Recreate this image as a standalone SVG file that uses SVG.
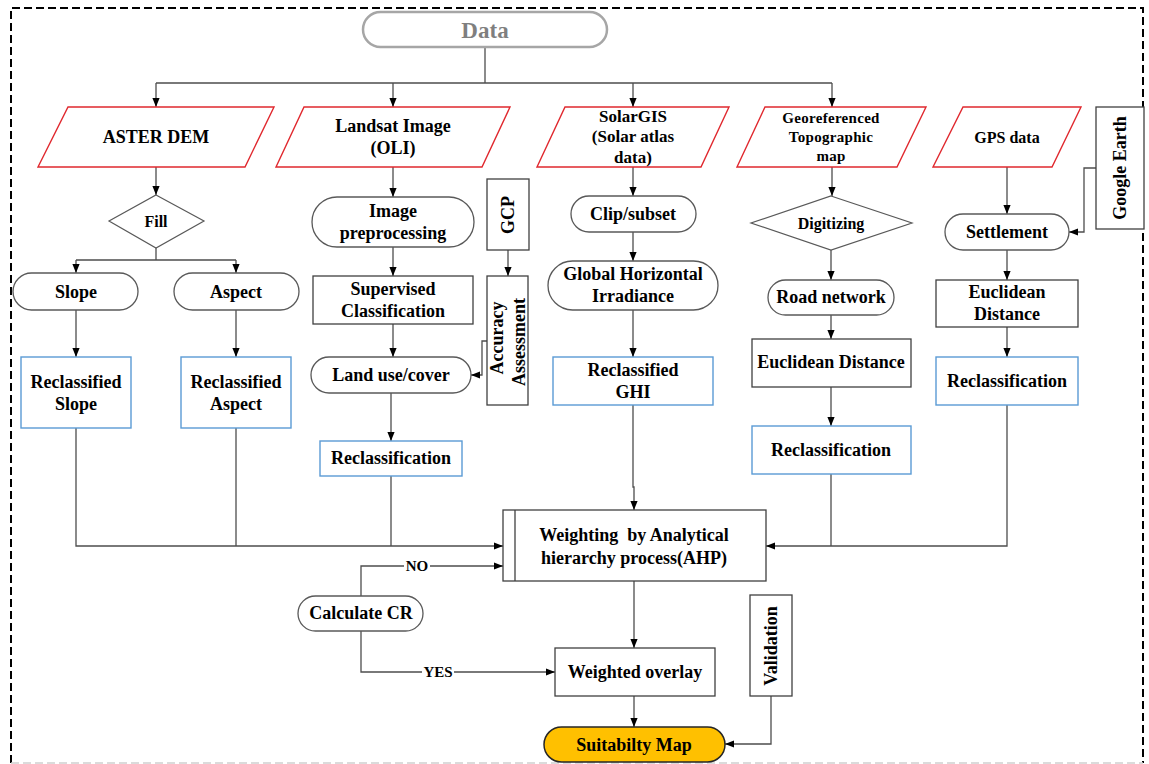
<svg xmlns="http://www.w3.org/2000/svg" width="1149" height="764" viewBox="0 0 1149 764">
<style>
text{font-family:"Liberation Serif","Times New Roman",serif;font-weight:bold;fill:#000;text-anchor:middle;dominant-baseline:central}
.f18{font-size:18px}.f17{font-size:17px}.f16{font-size:16px}.f15{font-size:15px}.f14{font-size:14px}
.para{fill:#fff;stroke:#e0282e;stroke-width:1.4}
.stad{fill:#fff;stroke:#595959;stroke-width:1.3}
.box{fill:#fff;stroke:#404040;stroke-width:1.3}
.blue{fill:#fff;stroke:#5b9bd5;stroke-width:1.4}
.dia{fill:#fff;stroke:#595959;stroke-width:1.2}
.c{fill:none;stroke:#4d4d4d;stroke-width:1.3}
</style>
<defs>
<marker id="a" viewBox="0 0 10 10" refX="10" refY="5" markerWidth="9" markerHeight="9" orient="auto" markerUnits="userSpaceOnUse"><path d="M0,1 L10,5 L0,9 z" fill="#000"/></marker>
</defs>
<rect width="1149" height="764" fill="#fff"/>
<g id="border">
<path d="M11,763 V8 H1143 V763" fill="none" stroke="#000" stroke-width="2" stroke-dasharray="8,4"/>
<path d="M11,763 H1143" fill="none" stroke="#d0d0d0" stroke-width="1.5" stroke-dasharray="8,4"/>
</g>
<g id="connectors">
<path class="c" d="M485,47 V83"/>
<path class="c" d="M156,83 H832"/>
<path class="c" d="M156,83 V107" marker-end="url(#a)"/>
<path class="c" d="M393,83 V107" marker-end="url(#a)"/>
<path class="c" d="M633,83 V107" marker-end="url(#a)"/>
<path class="c" d="M832,83 V107" marker-end="url(#a)"/>
<path class="c" d="M156,167 V195" marker-end="url(#a)"/>
<path class="c" d="M156,248 V260 M76,260 H236"/>
<path class="c" d="M76,260 V273" marker-end="url(#a)"/>
<path class="c" d="M236,260 V273" marker-end="url(#a)"/>
<path class="c" d="M76,310 V357" marker-end="url(#a)"/>
<path class="c" d="M236,310 V357" marker-end="url(#a)"/>
<path class="c" d="M76,428 V546 H503" marker-end="url(#a)"/>
<path class="c" d="M236,428 V546"/>
<path class="c" d="M391,476 V546"/>
<path class="c" d="M393,167 V197" marker-end="url(#a)"/>
<path class="c" d="M393,247 V276" marker-end="url(#a)"/>
<path class="c" d="M393,324 V357" marker-end="url(#a)"/>
<path class="c" d="M391,393 V441" marker-end="url(#a)"/>
<path class="c" d="M508,250 V276" marker-end="url(#a)"/>
<path class="c" d="M487,341 H482 V375 H471" marker-end="url(#a)"/>
<path class="c" d="M633,167 V196" marker-end="url(#a)"/>
<path class="c" d="M633,232 V261" marker-end="url(#a)"/>
<path class="c" d="M633,310 V357" marker-end="url(#a)"/>
<path class="c" d="M633,405 V487 H634 V510" marker-end="url(#a)"/>
<path class="c" d="M832,167 V196" marker-end="url(#a)"/>
<path class="c" d="M831,250 V280" marker-end="url(#a)"/>
<path class="c" d="M831,315 V339" marker-end="url(#a)"/>
<path class="c" d="M831,387 V426" marker-end="url(#a)"/>
<path class="c" d="M831,474 V546"/>
<path class="c" d="M1007,167 V214" marker-end="url(#a)"/>
<path class="c" d="M1096,168 H1084 V232 H1069" marker-end="url(#a)"/>
<path class="c" d="M1007,250 V280" marker-end="url(#a)"/>
<path class="c" d="M1007,327 V357" marker-end="url(#a)"/>
<path class="c" d="M1007,405 V546 H766" marker-end="url(#a)"/>
<path class="c" d="M361,596 V566 H503" marker-end="url(#a)"/>
<path class="c" d="M361,631 V672 H555" marker-end="url(#a)"/>
<path class="c" d="M634,581 V648" marker-end="url(#a)"/>
<path class="c" d="M634,696 V727" marker-end="url(#a)"/>
<path class="c" d="M771,696 V744 H725" marker-end="url(#a)"/>
<rect x="404" y="559" width="26" height="14" fill="#fff"/>
<text class="f15" x="417" y="566">NO</text>
<rect x="422" y="665" width="32" height="14" fill="#fff"/>
<text class="f15" x="438" y="672">YES</text>
</g>
<g id="data"><rect x="363" y="12" width="244" height="35" rx="17.5" fill="#fff" stroke="#a6a6a6" stroke-width="2.5"/><text x="485" y="30" style="font-size:23px;fill:#7f7f7f">Data</text></g>
<g id="aster"><polygon class="para" points="68,107 274,107 245,167 38,167"/><text class="f18" x="156" y="137">ASTER DEM</text></g>
<g id="landsat"><polygon class="para" points="304,107 510,107 482,167 276,167"/><text class="f18" x="393" y="126">Landsat Image</text><text class="f18" x="393" y="148">(OLI)</text></g>
<g id="solargis"><polygon class="para" points="565,107 729,107 701,167 537,167"/><text class="f17" x="633" y="116">SolarGIS</text><text class="f17" x="633" y="136">(Solar atlas</text><text class="f17" x="633" y="157">data)</text></g>
<g id="georef"><polygon class="para" points="765,107 926,107 897,167 737,167"/><text class="f15" x="831" y="118" letter-spacing="0.3">Georeferenced</text><text class="f15" x="831" y="137" letter-spacing="0.3">Topographic</text><text class="f15" x="831" y="156" letter-spacing="0.3">map</text></g>
<g id="gps"><polygon class="para" points="963,107 1081,107 1052,167 933,167"/><text class="f16" x="1007" y="137">GPS data</text></g>
<g id="googleearth"><rect class="box" x="1096" y="107" width="48" height="122"/><text class="f18" transform="translate(1120,168) rotate(-90)">Google Earth</text></g>
<g id="fill"><polygon class="dia" points="156,195 204,221 156,248 109,221"/><text class="f16" x="156" y="221">Fill</text></g>
<g id="slope"><rect class="stad" x="13" y="273" width="125" height="37" rx="18.5"/><text class="f18" x="76" y="292">Slope</text></g>
<g id="aspect"><rect class="stad" x="174" y="273" width="125" height="37" rx="18.5"/><text class="f18" x="236" y="292">Aspect</text></g>
<g id="recslope"><rect class="blue" x="21" y="357" width="110" height="71"/><text class="f18" x="76" y="382">Reclassified</text><text class="f18" x="76" y="404">Slope</text></g>
<g id="recaspect"><rect class="blue" x="181" y="357" width="110" height="71"/><text class="f18" x="236" y="382">Reclassified</text><text class="f18" x="236" y="404">Aspect</text></g>
<g id="imgpre"><rect class="stad" x="312" y="197" width="162" height="50" rx="25"/><text class="f18" x="393" y="211">Image</text><text class="f18" x="393" y="233">preprocessing</text></g>
<g id="supervised"><rect class="box" x="313" y="276" width="160" height="48"/><text class="f18" x="393" y="289">Supervised</text><text class="f18" x="393" y="311">Classification</text></g>
<g id="landuse"><rect class="stad" x="311" y="357" width="160" height="36" rx="18"/><text class="f18" x="391" y="375">Land use/cover</text></g>
<g id="reclanduse"><rect class="blue" x="320" y="441" width="142" height="35"/><text class="f18" x="391" y="458">Reclassification</text></g>
<g id="gcp"><rect class="box" x="487" y="179" width="42" height="71"/><text class="f18" transform="translate(508,215) rotate(-90)">GCP</text></g>
<g id="accuracy"><rect class="box" x="487" y="276" width="41" height="129"/><text class="f18" transform="translate(497,338) rotate(-90)">Accuracy</text><text class="f18" transform="translate(519,342) rotate(-90)">Assessment</text></g>
<g id="clip"><rect class="stad" x="571" y="196" width="125" height="36" rx="18"/><text class="f18" x="633" y="214">Clip/subset</text></g>
<g id="ghi"><rect class="stad" x="548" y="261" width="170" height="49" rx="24.5"/><text class="f18" x="633" y="274">Global Horizontal</text><text class="f18" x="633" y="296">Irradiance</text></g>
<g id="recghi"><rect class="blue" x="553" y="357" width="160" height="48"/><text class="f18" x="633" y="370">Reclassified</text><text class="f18" x="633" y="392">GHI</text></g>
<g id="digitizing"><polygon class="dia" points="831,196 912,223 831,250 751,223"/><text class="f16" x="831" y="223">Digitizing</text></g>
<g id="road"><rect class="stad" x="768" y="280" width="126" height="35" rx="17.5"/><text class="f18" x="831" y="297">Road network</text></g>
<g id="eucroad"><rect class="box" x="752" y="339" width="159" height="48"/><text class="f18" x="831" y="362">Euclidean Distance</text></g>
<g id="recroad"><rect class="blue" x="752" y="426" width="159" height="48"/><text class="f18" x="831" y="450">Reclassification</text></g>
<g id="settlement"><rect class="stad" x="945" y="214" width="124" height="36" rx="18"/><text class="f18" x="1007" y="232">Settlement</text></g>
<g id="eucset"><rect class="box" x="936" y="280" width="142" height="47"/><text class="f18" x="1007" y="292">Euclidean</text><text class="f18" x="1007" y="314">Distance</text></g>
<g id="recset"><rect class="blue" x="936" y="357" width="142" height="48"/><text class="f18" x="1007" y="381">Reclassification</text></g>
<g id="ahp"><rect class="box" x="503" y="510" width="263" height="71"/><line x1="515" y1="510" x2="515" y2="581" stroke="#404040" stroke-width="1.3"/><text class="f18" x="634" y="535" xml:space="preserve">Weighting  by Analytical</text><text class="f18" x="634" y="558">hierarchy process(AHP)</text></g>
<g id="calccr"><rect class="stad" x="298" y="596" width="125" height="35" rx="17.5"/><text class="f18" x="361" y="613">Calculate CR</text></g>
<g id="overlay"><rect class="box" x="555" y="648" width="160" height="48" stroke="#7f7f7f"/><text class="f18" x="635" y="672">Weighted overlay</text></g>
<g id="validation"><rect class="box" x="750" y="595" width="42" height="101" stroke="#7f7f7f"/><text class="f18" transform="translate(771,646) rotate(-90)">Validation</text></g>
<g id="suitability"><rect x="544" y="727" width="181" height="35" rx="17.5" fill="#ffc000" stroke="#262626" stroke-width="1.5"/><text class="f18" x="634" y="745">Suitabilty Map</text></g>
</svg>
